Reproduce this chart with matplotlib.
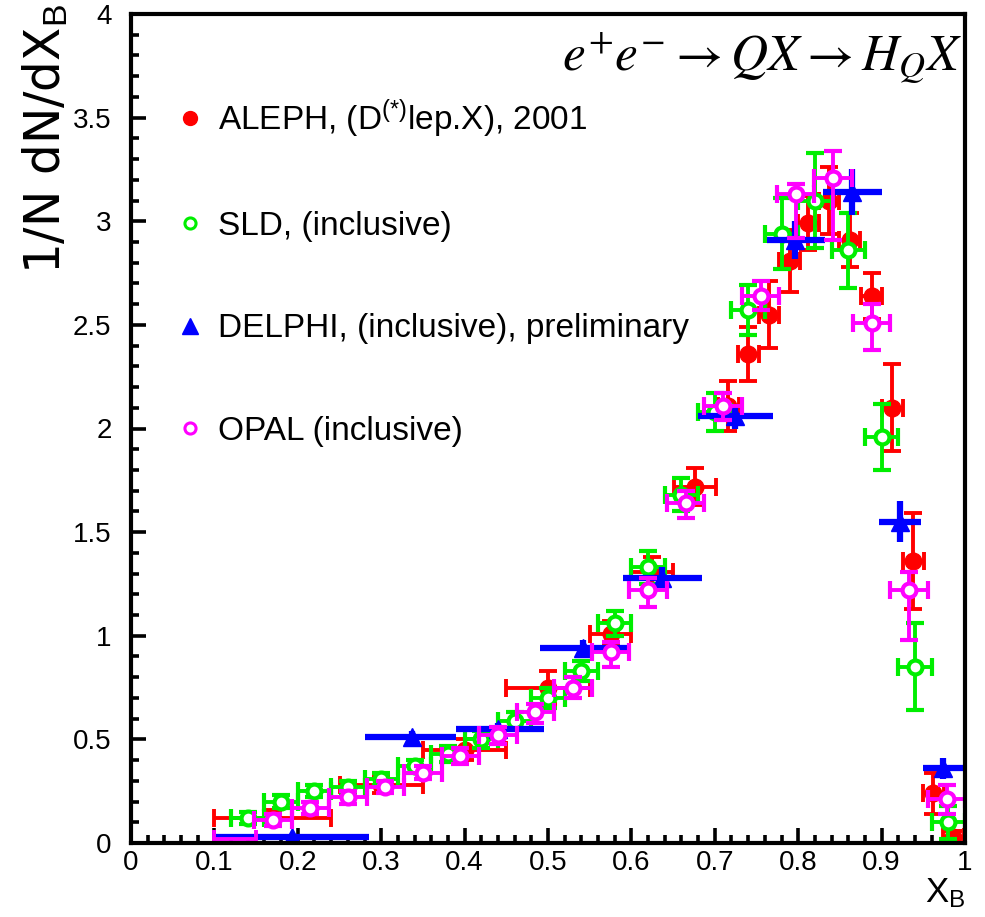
import matplotlib
matplotlib.use("Agg")
import matplotlib.pyplot as plt
from matplotlib.lines import Line2D
from matplotlib.ticker import MultipleLocator, FuncFormatter
import numpy as np

plt.rcParams['font.family'] = ['Liberation Sans', 'DejaVu Sans']
plt.rcParams['mathtext.fontset'] = 'custom'
plt.rcParams['mathtext.rm'] = 'Liberation Sans'
plt.rcParams['mathtext.it'] = 'Liberation Sans:italic'
plt.rcParams['mathtext.bf'] = 'Liberation Sans:bold'

# ---- ALEPH (D(*) lepton X), 2001 ----
aleph_x = [0.17, 0.30, 0.40, 0.50, 0.575, 0.625, 0.676, 0.716, 0.74, 0.765,
           0.79, 0.812, 0.837, 0.862, 0.888, 0.913, 0.938, 0.962, 0.986]
aleph_y = [0.12, 0.28, 0.45, 0.75, 1.01, 1.31, 1.72, 2.11, 2.36, 2.55,
           2.81, 2.99, 3.10, 2.91, 2.64, 2.10, 1.36, 0.24, 0.03]
aleph_yerr = [0.04, 0.04, 0.05, 0.08, 0.06, 0.07, 0.09, 0.12, 0.13, 0.16,
              0.15, 0.13, 0.16, 0.13, 0.11, 0.21, 0.23, 0.10, 0.03]
aleph_xerr = [0.07, 0.05, 0.05, 0.05, 0.025, 0.025, 0.025, 0.0125, 0.0125, 0.0125,
              0.0125, 0.0125, 0.0125, 0.0125, 0.0125, 0.0125, 0.0125, 0.0125, 0.0125]

# ---- SLD (inclusive) ----
sld_x = [0.14, 0.18, 0.22, 0.26, 0.30, 0.34, 0.38, 0.42, 0.46, 0.50, 0.54,
         0.58, 0.62, 0.66, 0.70, 0.74, 0.78, 0.82, 0.86, 0.90, 0.94, 0.98]
sld_y = [0.12, 0.20, 0.25, 0.27, 0.31, 0.37, 0.43, 0.50, 0.59, 0.70, 0.83,
         1.06, 1.33, 1.68, 2.08, 2.57, 2.94, 3.10, 2.86, 1.96, 0.85, 0.10]
sld_yerr = [0.03, 0.03, 0.03, 0.03, 0.03, 0.03, 0.04, 0.04, 0.04, 0.05, 0.05,
            0.06, 0.08, 0.08, 0.09, 0.12, 0.17, 0.23, 0.18, 0.16, 0.21, 0.08]
sld_xerr = 0.02
# first SLD bin sits at zero over 0 < x < 0.12
sld_zero_x = [0.06]
sld_zero_y = [0.0]
sld_zero_xerr = [0.06]

# ---- DELPHI (inclusive), preliminary ----
delphi_x = [0.193, 0.337, 0.44, 0.542, 0.637, 0.724, 0.796, 0.865, 0.922, 0.974]
delphi_lo = [0.10, 0.28, 0.39, 0.49, 0.59, 0.68, 0.763, 0.83, 0.897, 0.95]
delphi_hi = [0.285, 0.39, 0.495, 0.595, 0.685, 0.77, 0.832, 0.90, 0.947, 1.0]
delphi_y = [0.03, 0.51, 0.55, 0.94, 1.28, 2.06, 2.91, 3.14, 1.55, 0.36]
delphi_yerr = [0.01, 0.03, 0.03, 0.04, 0.05, 0.06, 0.09, 0.11, 0.10, 0.05]

# ---- OPAL (inclusive) ----
opal_x = [0.17, 0.215, 0.26, 0.305, 0.35, 0.395, 0.44, 0.485, 0.53, 0.575,
          0.62, 0.665, 0.71, 0.755, 0.797, 0.842, 0.888, 0.933, 0.978]
opal_y = [0.11, 0.17, 0.22, 0.27, 0.34, 0.42, 0.52, 0.63, 0.75, 0.92,
          1.22, 1.64, 2.11, 2.64, 3.13, 3.21, 2.51, 1.22, 0.21]
opal_err_lo = [0.03, 0.03, 0.03, 0.03, 0.03, 0.04, 0.04, 0.05, 0.05, 0.07,
               0.08, 0.07, 0.07, 0.07, 0.21, 0.30, 0.13, 0.24, 0.07]
opal_err_hi = [0.03, 0.03, 0.03, 0.03, 0.03, 0.04, 0.04, 0.04, 0.05, 0.05,
               0.06, 0.06, 0.06, 0.07, 0.05, 0.13, 0.09, 0.09, 0.07]
opal_xerr = 0.0225
opal_zero_x = [0.125]
opal_zero_y = [0.02]
opal_zero_xerr = [0.025]

x_ticks = [0.0, 0.1, 0.2, 0.3, 0.4, 0.5, 0.6, 0.7, 0.8, 0.9, 1.0]
y_ticks = [0.0, 0.5, 1.0, 1.5, 2.0, 2.5, 3.0, 3.5, 4.0]

labels = ["ALEPH, (D$^{(*)}$lep.X), 2001",
          "SLD, (inclusive)",
          "DELPHI, (inclusive), preliminary",
          "OPAL (inclusive)"]

RED, GREEN, BLUE, MAGENTA = "#ff0000", "#00ee00", "#0000ff", "#ff00ff"

fig = plt.figure(figsize=(9.85, 9.17), dpi=100)
ax = fig.add_axes([131 / 985, 74 / 917, 834 / 985, 829 / 917])

ebkw = dict(linestyle='none', elinewidth=2.8, capsize=6.5, capthick=2.8)

ax.errorbar(aleph_x, aleph_y, xerr=aleph_xerr, yerr=aleph_yerr, marker='o',
            ms=12, color=RED, zorder=2, **ebkw)

ax.errorbar(sld_zero_x, sld_zero_y, xerr=sld_zero_xerr, fmt='none',
            ecolor=GREEN, elinewidth=2.8, capsize=0, zorder=3, clip_on=False)
ax.errorbar(sld_x, sld_y, xerr=sld_xerr, yerr=sld_yerr, marker='o', ms=10,
            mew=3, mfc='white', mec=GREEN, color=GREEN, zorder=3, **ebkw)

d_x = np.asarray(delphi_x)
d_xerr = [d_x - np.asarray(delphi_lo), np.asarray(delphi_hi) - d_x]
ax.errorbar(delphi_x, delphi_y, xerr=d_xerr, yerr=delphi_yerr, marker='^',
            ms=13, color=BLUE, linestyle='none', elinewidth=4.5, capsize=0,
            zorder=4)

ax.errorbar(opal_zero_x, opal_zero_y, xerr=opal_zero_xerr, fmt='none',
            ecolor=MAGENTA, elinewidth=2.8, capsize=6.5, capthick=2.8, zorder=5)
ax.errorbar(opal_x, opal_y, xerr=opal_xerr, yerr=[opal_err_lo, opal_err_hi],
            marker='o', ms=10, mew=3, mfc='white', mec=MAGENTA, color=MAGENTA,
            zorder=5, **ebkw)

ax.set_xlim(0, 1)
ax.set_ylim(0, 4)
ax.set_xticks(x_ticks)
ax.set_yticks(y_ticks)
ax.xaxis.set_minor_locator(MultipleLocator(0.02))
ax.yaxis.set_minor_locator(MultipleLocator(0.1))
fmt = FuncFormatter(lambda v, p: f"{v:g}")
ax.xaxis.set_major_formatter(fmt)
ax.yaxis.set_major_formatter(fmt)
ax.tick_params(which='both', direction='in', top=False, right=False,
               width=2.6, labelsize=20)
ax.tick_params(which='major', length=11)
ax.tick_params(which='minor', length=6)
ax.tick_params(axis='x', pad=5)
ax.tick_params(axis='y', pad=14)
for s in ax.spines.values():
    s.set_linewidth(3)
    s.set_zorder(6)

ax.set_xlabel(r"X$_{\mathrm{B}}$", loc='right', fontsize=25, labelpad=0)
fig.text(45 / 985, 1 - 4 / 917, r"1/N dN/dX$_{\mathrm{B}}$", rotation=90,
         ha='center', va='top', fontsize=35, family=['DejaVu Sans'])

ax.text(0.997, 0.947, r"$e^{+}e^{-}\rightarrow QX\rightarrow H_{Q}X$",
        transform=ax.transAxes, ha='right', va='center', fontsize=37,
        math_fontfamily='stix')

handles = [
    Line2D([], [], ls='none', marker='o', ms=10, color=RED),
    Line2D([], [], ls='none', marker='o', ms=8, mew=2.2, mfc='white', mec=GREEN),
    Line2D([], [], ls='none', marker='^', ms=11, color=BLUE),
    Line2D([], [], ls='none', marker='o', ms=8, mew=2.2, mfc='white', mec=MAGENTA),
]
ax.legend(handles, labels, loc='upper left', bbox_to_anchor=(0.0548, 0.90),
          frameon=False, fontsize=24, handlelength=0.8, handletextpad=0.44,
          labelspacing=2.14, borderpad=0, borderaxespad=0)

fig.savefig("out.png", dpi=100)
